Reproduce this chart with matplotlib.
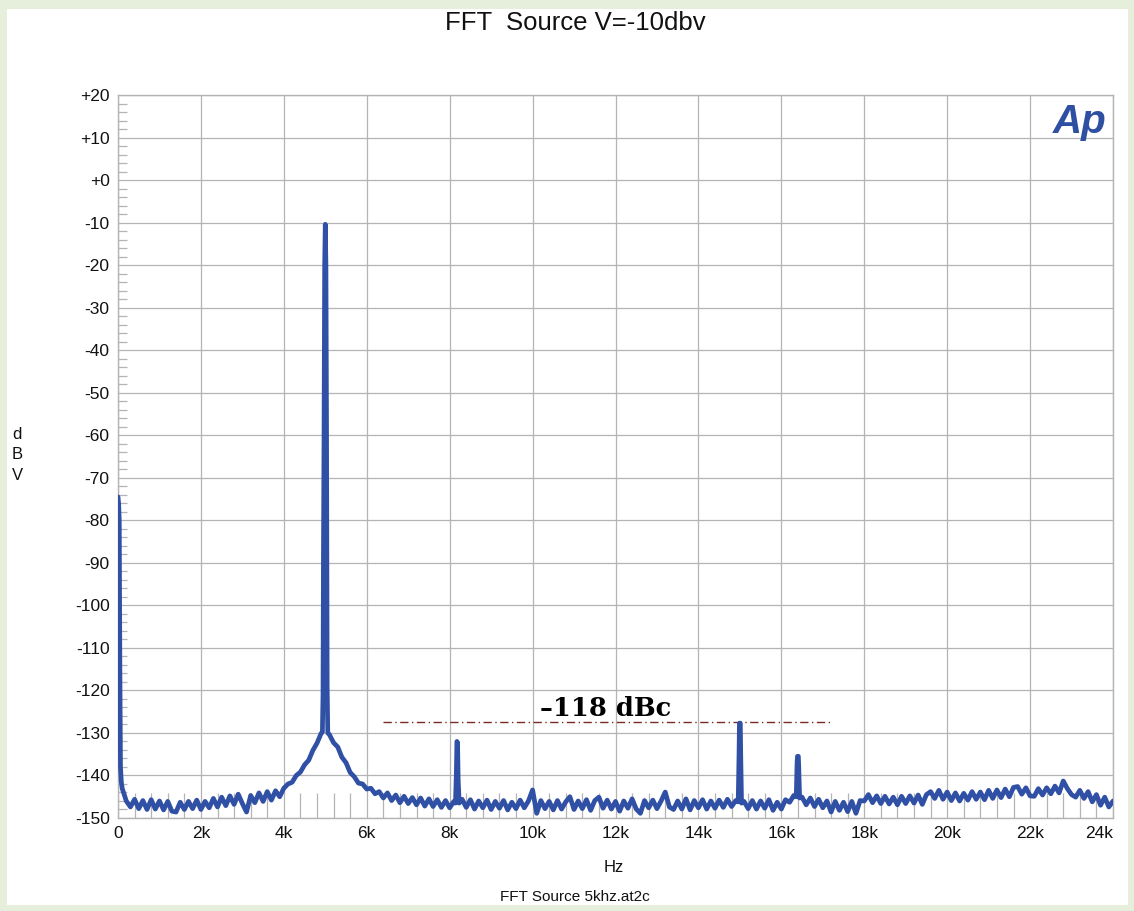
import matplotlib
matplotlib.use("Agg")
import matplotlib.pyplot as plt
from matplotlib.patches import Rectangle
from matplotlib.ticker import MultipleLocator, FixedLocator
import numpy as np

# ---------------- data ----------------
floor_freq = list(range(100, 4901, 100)) + list(range(5100, 8101, 100)) + \
    list(range(8300, 14901, 100)) + list(range(15100, 16301, 100)) + list(range(16500, 24001, 100))
floor_db = [
    # 100 .. 4900
    -143.0, -146.0, -147.4, -145.6, -147.8, -145.9, -148.0, -145.7, -147.9, -146.0,
    -148.1, -146.1, -148.4, -148.6, -146.3, -148.0, -146.1, -147.8, -145.8, -148.0,
    -146.1, -147.6, -145.4, -147.4, -145.1, -147.1, -144.8, -146.8, -144.4, -146.6,
    -148.6, -144.7, -146.4, -144.1, -146.1, -143.8, -145.8, -143.6, -145.0, -143.0,
    -142.0, -141.6, -140.0, -139.2, -137.5, -136.4, -134.1, -132.4, -130.1,
    # 5100 .. 8100
    -130.4, -132.3, -133.3, -135.7, -137.0, -139.3, -140.3, -141.8, -142.0, -143.2,
    -143.0, -144.3, -143.8, -145.3, -144.1, -145.9, -144.6, -146.4, -144.9, -146.6,
    -145.2, -146.9, -145.3, -147.2, -145.5, -147.3, -145.7, -147.5, -145.9, -147.6,
    -146.1,
    # 8300 .. 14900
    -145.6, -147.5, -145.7, -147.9, -146.0, -147.6, -145.8, -148.0, -146.1, -147.7,
    -145.9, -148.1, -146.3, -147.8, -145.8, -147.6, -146.0, -143.4, -148.9, -145.9,
    -147.8, -146.1, -148.1, -145.9, -147.9, -146.2, -145.0, -148.0, -146.0, -147.8,
    -145.7, -148.2, -145.9, -145.1, -147.7, -145.8, -147.9, -146.1, -148.4, -146.0,
    -147.7, -145.5, -147.9, -148.9, -145.9, -147.6, -145.8, -147.8, -146.0, -143.9,
    -147.4, -148.0, -146.0, -147.9, -145.5, -148.1, -145.9, -147.6, -145.7, -147.9,
    -146.0, -147.7, -145.8, -147.5, -145.6, -147.3, -145.9,
    # 15100 .. 16300
    -146.1, -147.8, -145.9, -147.9, -146.0, -147.7, -145.7, -148.2, -146.3, -147.9,
    -145.7, -146.3, -144.7,
    # 16500 .. 24000
    -145.1, -146.9, -145.3, -147.3, -145.6, -147.6, -146.0, -148.6, -146.1, -148.2,
    -146.3, -148.5, -146.1, -148.9, -145.9, -146.0, -144.5, -146.4, -144.8, -146.6,
    -144.9, -146.7, -145.1, -146.9, -144.9, -146.6, -144.8, -146.5, -144.6, -146.8,
    -144.5, -143.8, -145.4, -143.5, -145.6, -143.9, -145.9, -144.1, -146.0, -144.2,
    -145.8, -143.8, -145.6, -143.9, -145.7, -143.5, -145.4, -143.4, -145.2, -143.2,
    -145.0, -142.8, -142.6, -144.4, -142.9, -144.8, -144.9, -143.1, -144.6, -142.9,
    -144.3, -142.5, -144.1, -141.3, -143.1, -144.5, -145.1, -143.5, -145.4, -143.8,
    -146.2, -144.5, -147.0, -145.1, -147.4, -146.0,
]

dc_freq = [0, 15, 30, 45, 60, 80]
dc_db = [-74.5, -76.0, -80.0, -115.0, -138.0, -141.5]

fund_freq = [4930, 4945, 4955, 4970, 4985, 5000, 5015, 5030, 5045, 5060]
fund_db = [-129.8, -121.0, -90.0, -60.0, -20.0, -10.4, -20.0, -60.0, -119.0, -130.0]

h1_freq = [8140, 8160, 8175, 8190, 8205, 8230]
h1_db = [-146.5, -140.0, -132.0, -132.3, -141.0, -146.5]

h2_freq = [14960, 14980, 14990, 15010, 15020, 15040]
h2_db = [-146.2, -135.0, -127.7, -127.7, -135.0, -146.5]

h3_freq = [16360, 16380, 16390, 16410, 16420, 16440]
h3_db = [-145.0, -137.0, -135.5, -135.5, -138.0, -145.3]

marker_level = -127.5
marker_span = [6400, 17200]
marker_text = "\u2013118 dBc"
marker_text_pos = [11750, -124.2]

x_ticks = [0, 2000, 4000, 6000, 8000, 10000, 12000, 14000, 16000, 18000, 20000, 22000, 24000]
x_labels = ["0", "2k", "4k", "6k", "8k", "10k", "12k", "14k", "16k", "18k", "20k", "22k", "24k"]
y_ticks = list(range(20, -151, -10))
y_labels = ["+20", "+10", "+0"] + ["%d" % v for v in range(-10, -151, -10)]

title = "FFT  Source V=-10dbv"
xlabel = "Hz"
footer = "FFT Source 5khz.at2c"

# ---------------- assemble trace ----------------
f_all = np.array(dc_freq + floor_freq + fund_freq + h1_freq + h2_freq + h3_freq, dtype=float)
d_all = np.array(dc_db + floor_db + fund_db + h1_db + h2_db + h3_db, dtype=float)
order = np.argsort(f_all, kind="stable")
f_all = f_all[order]
d_all = d_all[order]

# ---------------- figure ----------------
W, H = 1134, 911
fig = plt.figure(figsize=(W / 100, H / 100), dpi=100)
fig.patch.set_facecolor("#e6eedc")
fig.patches.append(Rectangle((7 / W, 1 - 905 / H), (1128 - 7) / W, (905 - 9) / H,
                             transform=fig.transFigure, facecolor="white",
                             edgecolor="none", zorder=-10))

ax = fig.add_axes([118 / W, 1 - 818 / H, (1113 - 118) / W, (818 - 95) / H])
ax.set_zorder(1)
ax.set_facecolor("white")

grid_c = "#b4b4b4"
ax.set_xlim(0, 24000)
ax.set_ylim(-150, 20)
ax.xaxis.set_major_locator(FixedLocator(x_ticks))
ax.yaxis.set_major_locator(FixedLocator(y_ticks))
ax.xaxis.set_minor_locator(MultipleLocator(400))
ax.yaxis.set_minor_locator(MultipleLocator(2))
ax.set_xticklabels(x_labels)
ax.set_yticklabels(y_labels)
ax.grid(True, which="major", color=grid_c, linewidth=0.9)
ax.tick_params(which="major", length=0, pad=6, labelsize=12.5, labelcolor="#111111")
ax.tick_params(axis="x", which="minor", direction="in", length=18, width=0.9, color=grid_c,
               bottom=True, top=False)
ax.tick_params(axis="y", which="minor", direction="in", length=6.5, width=0.9, color=grid_c,
               left=True, right=False)
for lab in ax.get_xticklabels() + ax.get_yticklabels():
    lab.set_fontfamily("Liberation Sans")
ax.get_xticklabels()[-1].set_horizontalalignment("right")
for s in ax.spines.values():
    s.set_color(grid_c)
    s.set_linewidth(1.0)

ax.plot(f_all, d_all, color="#3050a5", linewidth=3.4, solid_joinstyle="round",
        solid_capstyle="round", zorder=5, clip_on=True)

# marker line and annotation
ax.plot(marker_span, [marker_level, marker_level], color="#7a2a2a", linewidth=1.0,
        dashes=(6, 2.5, 1, 2.5), zorder=4)
ax.text(marker_text_pos[0], marker_text_pos[1], marker_text, ha="center", va="center",
        fontsize=18.5, fontweight="bold", family="DejaVu Serif", color="black",
        zorder=6)

# Ap logo
fig.text(1080 / W, 1 - 122 / H, "Ap", ha="center", va="center", fontsize=29,
         fontweight="bold", style="italic", family="Liberation Sans", color="#2f4fa2",
         zorder=5)

# titles
fig.text(575 / W, 1 - 23 / H, title, ha="center", va="center", fontsize=18.5,
         family="Liberation Sans", color="#111111")
fig.text(614 / W, 1 - 868 / H, xlabel, ha="center", va="center", fontsize=12,
         family="Liberation Sans", color="#111111")
fig.text(575 / W, 1 - 897 / H, footer, ha="center", va="center", fontsize=11,
         family="Liberation Sans", color="#111111")
fig.text(17 / W, 1 - 455 / H, "d\nB\nV", ha="center", va="center", fontsize=12,
         family="Liberation Sans", color="#111111", linespacing=1.45)

fig.savefig("out.png", dpi=100, facecolor=fig.get_facecolor())
